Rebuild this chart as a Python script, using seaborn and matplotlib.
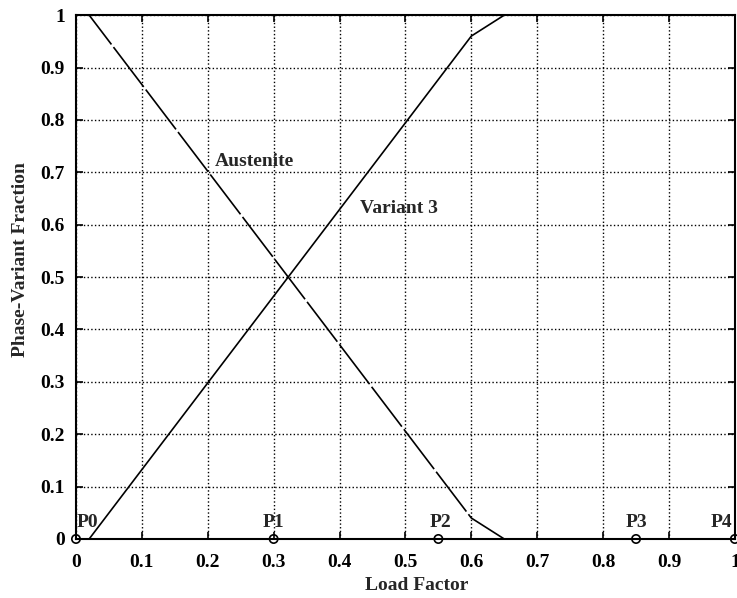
import matplotlib
matplotlib.use("Agg")
import matplotlib.pyplot as plt
import seaborn as sns
import pandas as pd

# Datos
load_factor = [0.0, 0.02, 0.60, 0.65, 1.0]
austenite = [1.0, 1.0, 0.04, 0.0, 0.0]
variant3 = [0.0, 0.0, 0.96, 1.0, 1.0]

points_x = [0.0, 0.3, 0.55, 0.85, 1.0]
points_y = [0.0, 0.0, 0.0, 0.0, 0.0]
points_lbl = ["P0", "P1", "P2", "P3", "P4"]
points_lbl_x = [0.018, 0.3, 0.553, 0.851, 0.979]

ticks = [0, 0.1, 0.2, 0.3, 0.4, 0.5, 0.6, 0.7, 0.8, 0.9, 1]
tick_lbl = ["0", "0.1", "0.2", "0.3", "0.4", "0.5", "0.6", "0.7", "0.8", "0.9", "1"]

sns.set_style("ticks")
plt.rcParams["font.family"] = ["Liberation Serif", "DejaVu Serif"]
plt.rcParams["font.weight"] = "bold"

df = pd.DataFrame({"x": load_factor, "aus": austenite, "var3": variant3})
pts = pd.DataFrame({"x": points_x, "y": points_y})

fig = plt.figure(figsize=(7.37, 5.98), dpi=100)
ax = fig.add_axes([0.1031, 0.0987, 0.894, 0.876])

sns.lineplot(data=df, x="x", y="aus", ax=ax, color="black", lw=1.2)
ax.lines[-1].set_dashes([30, 2])
sns.lineplot(data=df, x="x", y="var3", ax=ax, color="black", lw=1.2)
sns.scatterplot(data=pts, x="x", y="y", ax=ax, marker="o", s=36,
                facecolor="none", edgecolor="black", linewidth=1.2,
                zorder=5, clip_on=False)

for lx, lb in zip(points_lbl_x, points_lbl):
    ax.text(lx, 0.023, lb, ha="center", va="baseline", fontsize=14, fontweight="bold")

ax.text(0.211, 0.712, "Austenite", ha="left", va="baseline", fontsize=14, fontweight="bold")
ax.text(0.431, 0.622, "Variant 3", ha="left", va="baseline", fontsize=14, fontweight="bold")

ax.set_xlim(0, 1)
ax.set_ylim(0, 1)
ax.set_xticks(ticks)
ax.set_xticklabels(tick_lbl)
ax.set_yticks(ticks)
ax.set_yticklabels(tick_lbl)
ax.grid(True, color="black", linestyle=":", linewidth=1.0)
ax.tick_params(direction="in", top=True, right=True, length=5, width=1.2,
               labelsize=14, colors="black")
ax.tick_params(axis="x", pad=11)
ax.tick_params(axis="y", pad=8)
for sp in ax.spines.values():
    sp.set_visible(True)
    sp.set_color("black")
    sp.set_linewidth(1.5)

ax.set_xlabel("Load Factor", fontsize=14, fontweight="bold")
ax.xaxis.set_label_coords(0.517, -0.072)
ax.set_ylabel("Phase-Variant Fraction", fontsize=14, fontweight="bold")
ax.yaxis.set_label_coords(-0.072, 0.534)

fig.savefig("out.png", dpi=100)
